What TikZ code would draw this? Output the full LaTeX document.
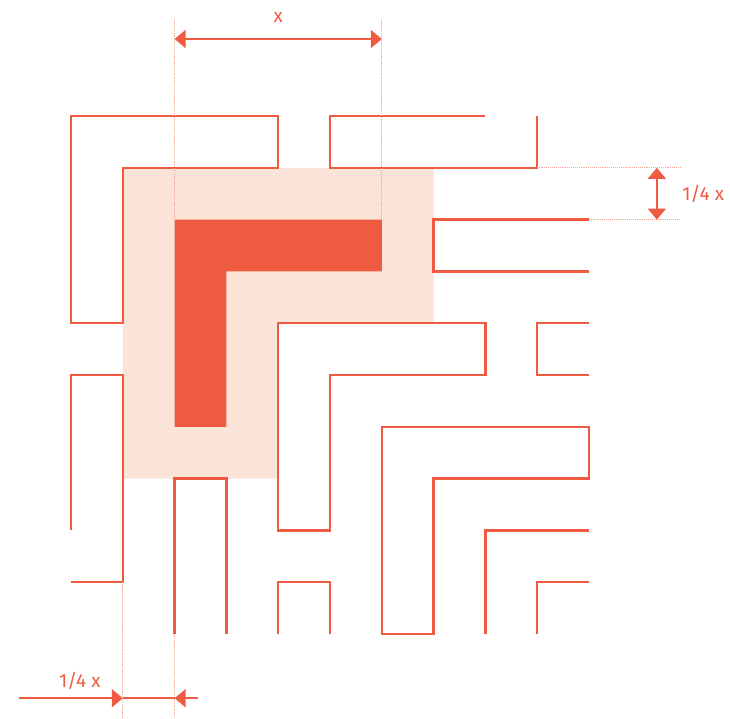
\documentclass[tikz,border=0pt]{standalone}
\usepackage{fontspec}
\setmainfont{Fira Sans}
\usetikzlibrary{arrows.meta}
\definecolor{mz}{HTML}{EF5B40}
\definecolor{pale}{HTML}{FCE3D7}
\definecolor{guide}{HTML}{F5A493}
\tikzset{
  maze/.style={draw=mz, line width=2.3pt, line join=miter},
  guideline/.style={draw=guide, line width=1.1pt, densely dotted},
  dimline/.style={draw=mz, line width=2pt},
  tip/.style={-{Triangle[length=11pt,width=18pt]}},
  tips/.style={{Triangle[length=11pt,width=18pt]}-{Triangle[length=11pt,width=18pt]}},
  lbl/.style={text=mz, font=\fontsize{19}{21}\selectfont, inner sep=0pt}
}
\begin{document}
\begin{tikzpicture}[x=1pt,y=-1pt]
\useasboundingbox (0,0) rectangle (730,718);
\begin{scope}[shift={(71,116)}, x=51.8pt, y=-51.8pt]
  % filled areas
  \fill[pale] (1,1) -- (7,1) -- (7,4) -- (4,4) -- (4,7) -- (1,7) -- cycle;
  \fill[mz] (2,2) -- (6,2) -- (6,3) -- (3,3) -- (3,6) -- (2,6) -- cycle;
  % maze lines
  \draw[maze] (0,0) -- (4,0) -- (4,1) -- (1,1) -- (1,4) -- (0,4) -- cycle;
  \draw[maze] (8,0) -- (5,0) -- (5,1) -- (9,1) -- (9,0);
  \draw[maze] (10,2) -- (7,2) -- (7,3) -- (10,3);
  \draw[maze] (4,4) -- (8,4) -- (8,5) -- (5,5) -- (5,8) -- (4,8) -- cycle;
  \draw[maze] (10,4) -- (9,4) -- (9,5) -- (10,5);
  \draw[maze] (0,8) -- (0,5) -- (1,5) -- (1,9) -- (0,9);
  \draw[maze] (2,10) -- (2,7) -- (3,7) -- (3,10);
  \draw[maze] (6,6) -- (10,6) -- (10,7) -- (7,7) -- (7,10) -- (6,10) -- cycle;
  \draw[maze] (10,8) -- (8,8) -- (8,10);
  \draw[maze] (4,10) -- (4,9) -- (5,9) -- (5,10);
  \draw[maze] (10,9) -- (9,9) -- (9,10);

  % top dimension
  \coordinate (tga) at (2,-1.88);
  \coordinate (tgb) at (2,2);
  \coordinate (tgc) at (6,-1.88);
  \coordinate (tgd) at (6,2);
  \coordinate (ta) at (2,-1.486);
  \coordinate (tb) at (6,-1.486);
  \draw[guideline] (tga) -- (tgb);
  \draw[guideline] (tgc) -- (tgd);
  \draw[dimline, tips] (ta) -- (tb);
  \node[lbl] (lx) at (4,-1.9) {x};

  % right dimension
  \coordinate (rga) at (9,1);
  \coordinate (rgb) at (11.76,1);
  \coordinate (rgc) at (10,2);
  \coordinate (rgd) at (11.76,2);
  \coordinate (ra) at (11.31,1);
  \coordinate (rb) at (11.31,2);
  \draw[guideline] (rga) -- (rgb);
  \draw[guideline] (rgc) -- (rgd);
  \draw[dimline, tips] (ra) -- (rb);
  \node[lbl, anchor=west] (lr) at (11.8,1.5) {1/4 x};

  % bottom dimension
  \coordinate (bga) at (1,9);
  \coordinate (bgb) at (1,11.62);
  \coordinate (bgc) at (2,10);
  \coordinate (bgd) at (2,11.62);
  \coordinate (bs) at (-1.0,11.24);
  \coordinate (b1) at (1,11.24);
  \coordinate (b2) at (2,11.24);
  \coordinate (be) at (2.45,11.24);
  \draw[guideline] (bga) -- (bgb);
  \draw[guideline] (bgc) -- (bgd);
  \draw[dimline, tip] (bs) -- (b1);
  \draw[dimline] (b1) -- (b2);
  \draw[dimline, tip] (be) -- (b2);
  \node[lbl] (lb) at (0.17,10.9) {1/4 x};
\end{scope}
\end{tikzpicture}
\end{document}
